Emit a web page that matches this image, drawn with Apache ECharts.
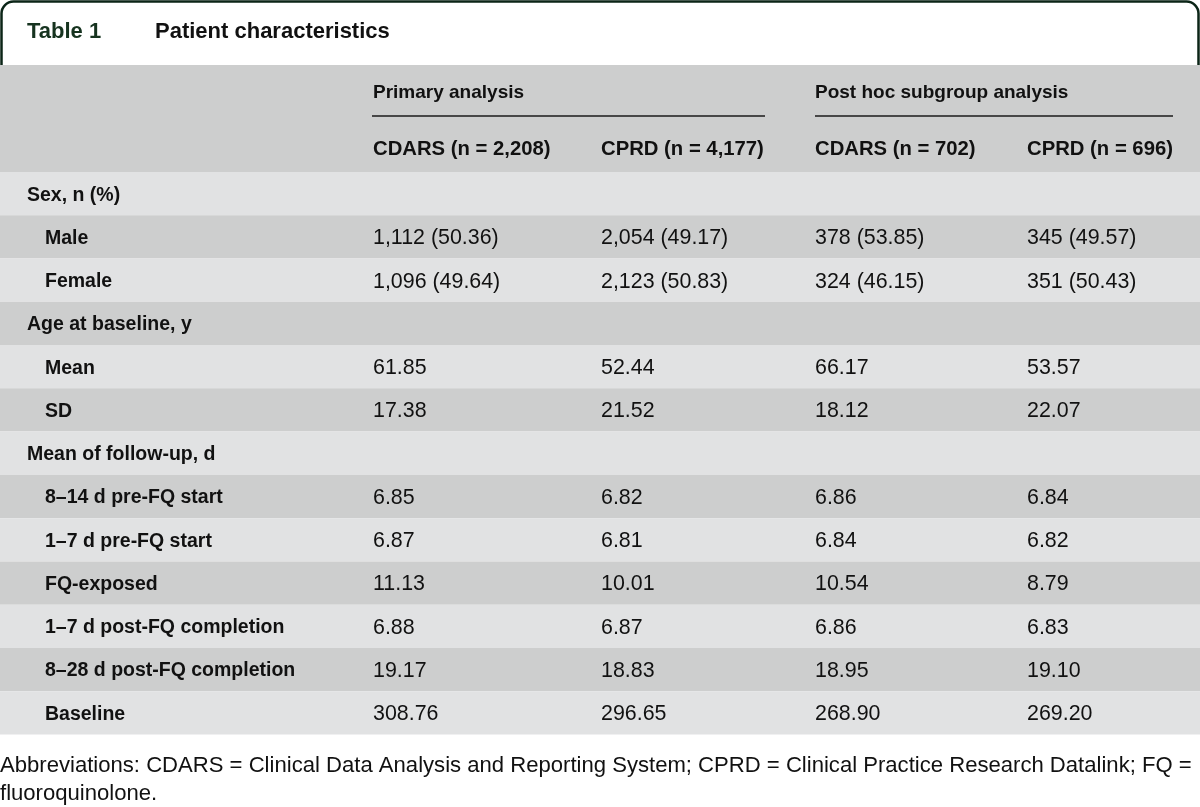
<!DOCTYPE html>
<html>
<head>
<meta charset="utf-8">
<script src="https://cdn.jsdelivr.net/npm/echarts@6/dist/echarts.min.js"></script>
<style>
  html, body { margin: 0; padding: 0; background: #ffffff; }
  #chart { width: 1200px; height: 807px; }
</style>
</head>
<body>
<div id="chart"></div>
<script>
// ---------- data ----------
const tableNumber = 'Table 1';
const tableTitle = 'Patient characteristics';
const groupHeaders = ['Primary analysis', 'Post hoc subgroup analysis'];
const columnHeaders = ['CDARS (n = 2,208)', 'CPRD (n = 4,177)', 'CDARS (n = 702)', 'CPRD (n = 696)'];
const rowLabels = [
  'Sex, n (%)', 'Male', 'Female',
  'Age at baseline, y', 'Mean', 'SD',
  'Mean of follow-up, d', '8–14 d pre-FQ start', '1–7 d pre-FQ start', 'FQ-exposed',
  '1–7 d post-FQ completion', '8–28 d post-FQ completion', 'Baseline'
];
const rowIsSection = [true, false, false, true, false, false, true, false, false, false, false, false, false];
const cdarsPrimary = ['', '1,112 (50.36)', '1,096 (49.64)', '', '61.85', '17.38', '', '6.85', '6.87', '11.13', '6.88', '19.17', '308.76'];
const cprdPrimary  = ['', '2,054 (49.17)', '2,123 (50.83)', '', '52.44', '21.52', '', '6.82', '6.81', '10.01', '6.87', '18.83', '296.65'];
const cdarsPostHoc = ['', '378 (53.85)', '324 (46.15)', '', '66.17', '18.12', '', '6.86', '6.84', '10.54', '6.86', '18.95', '268.90'];
const cprdPostHoc  = ['', '345 (49.57)', '351 (50.43)', '', '53.57', '22.07', '', '6.84', '6.82', '8.79', '6.83', '19.10', '269.20'];
const footnoteLines = [
  'Abbreviations: CDARS = Clinical Data Analysis and Reporting System; CPRD = Clinical Practice Research Datalink; FQ =',
  'fluoroquinolone.'
];

// ---------- layout / style ----------
const FONT = '"Liberation Sans", Arial, sans-serif';
const colX = [27, 373, 601, 815, 1027];   // column text start on the 0..1200 x scale
const subIndent = 18;
const bodyTop = 172, bodyHeight = 562.5;
const headerTop = 65;
const darkBand = '#cdcece', lightBand = '#e1e2e3';
const textColor = '#111111';
const frameColor = '#0b2517';
const labelFont = 'bold 19.5px ' + FONT;
const valueFont = '21.4px ' + FONT;

const valueCols = [cdarsPrimary, cprdPrimary, cdarsPostHoc, cprdPostHoc];
const cellData = [];
rowLabels.forEach((lab, r) => {
  cellData.push([0, r, lab, 1]);
  valueCols.forEach((col, c) => {
    if (col[r] !== '') cellData.push([c + 1, r, col[r], 0]);
  });
});
const bandData = rowLabels.map((_, r) => [0, r]);

const chart = echarts.init(document.getElementById('chart'), null, { renderer: 'canvas' });

const option = {
  animation: false,
  backgroundColor: '#ffffff',
  grid: { left: 0, right: 0, top: bodyTop, height: bodyHeight, containLabel: false },
  xAxis: { type: 'value', min: 0, max: 1200, show: false },
  yAxis: { type: 'category', data: rowLabels, inverse: true, show: false },
  graphic: [
    // title frame
    { type: 'rect', shape: { x: 1.5, y: 1.5, width: 1197, height: 90, r: 12 },
      style: { fill: '#ffffff', stroke: frameColor, lineWidth: 2.5 }, z: 1 },
    { type: 'text', x: 27, y: 32, z: 5,
      style: { text: tableNumber, fill: '#16331f', font: 'bold 22px ' + FONT, textVerticalAlign: 'middle' } },
    { type: 'text', x: 155, y: 32, z: 5,
      style: { text: tableTitle, fill: textColor, font: 'bold 22px ' + FONT, textVerticalAlign: 'middle' } },
    // header band
    { type: 'rect', shape: { x: 0, y: headerTop, width: 1200, height: bodyTop - headerTop },
      style: { fill: darkBand }, z: 2 },
    { type: 'text', x: colX[1], y: 93, z: 5,
      style: { text: groupHeaders[0], fill: textColor, font: 'bold 19px ' + FONT, textVerticalAlign: 'middle' } },
    { type: 'text', x: colX[3], y: 93, z: 5,
      style: { text: groupHeaders[1], fill: textColor, font: 'bold 19px ' + FONT, textVerticalAlign: 'middle' } },
    { type: 'line', shape: { x1: 372, y1: 116, x2: 765, y2: 116 }, style: { stroke: '#1a1a1a', lineWidth: 1.5 }, z: 5 },
    { type: 'line', shape: { x1: 815, y1: 116, x2: 1173, y2: 116 }, style: { stroke: '#1a1a1a', lineWidth: 1.5 }, z: 5 }
  ].concat(columnHeaders.map((h, i) => ({
    type: 'text', x: colX[i + 1], y: 149, z: 5,
    style: { text: h, fill: textColor, font: 'bold 20.3px ' + FONT, textVerticalAlign: 'middle' }
  }))).concat(footnoteLines.map((t, i) => ({
    type: 'text', x: 0, y: 766 + i * 28, z: 5,
    style: { text: t, fill: textColor, font: '22.1px ' + FONT, textVerticalAlign: 'middle' }
  }))),
  series: [
    {
      type: 'custom',
      name: 'bands',
      data: bandData,
      z: 1,
      renderItem: function (params, api) {
        const r = api.value(1);
        const c = api.coord([0, r]);
        const h = api.size([0, 1])[1];
        const cs = params.coordSys;
        return {
          type: 'rect',
          shape: { x: cs.x, y: c[1] - h / 2, width: cs.width, height: h },
          style: { fill: r % 2 === 0 ? lightBand : darkBand }
        };
      }
    },
    {
      type: 'custom',
      name: 'cells',
      data: cellData,
      z: 3,
      renderItem: function (params, api) {
        const col = api.value(0);
        const r = api.value(1);
        const item = cellData[params.dataIndex];
        let x = colX[col];
        if (col === 0 && !rowIsSection[r]) x += subIndent;
        const c = api.coord([x, r]);
        return {
          type: 'text',
          x: c[0], y: c[1] + 1.5,
          style: {
            text: item[2],
            fill: textColor,
            font: item[3] ? labelFont : valueFont,
            textVerticalAlign: 'middle'
          }
        };
      }
    }
  ]
};
chart.setOption(option);
</script>
</body>
</html>
